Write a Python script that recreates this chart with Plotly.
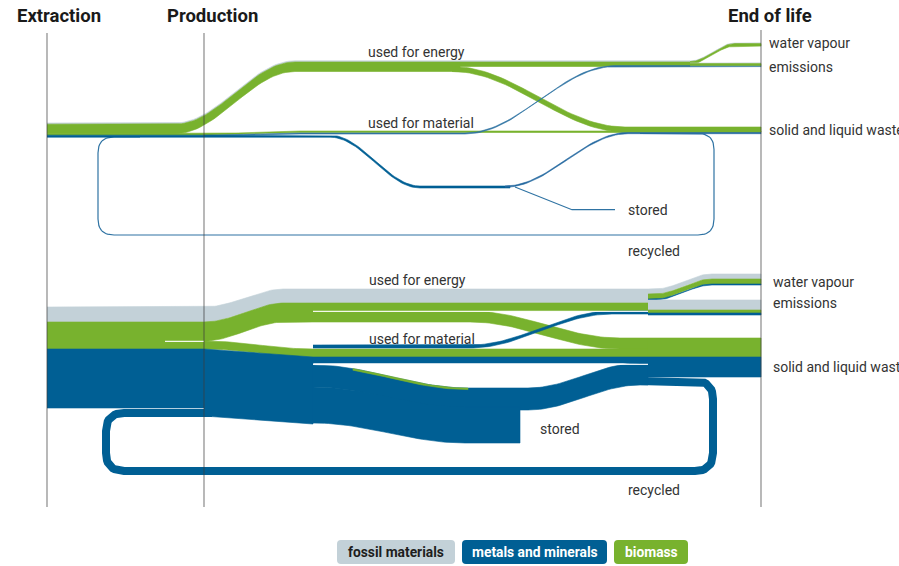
import numpy as np
import plotly.graph_objects as go

W, H = 899, 566
SCALE = 1.0  # px per flow unit

# ---------------- data ----------------
STAGES = ["Extraction", "Production", "End of life"]
MATERIALS = ["fossil materials", "metals and minerals", "biomass"]
USE_NODES = ["used for energy", "used for material", "stored", "recycled"]
EOL_NODES = ["water vapour", "emissions", "solid and liquid waste"]

# upper panel (band thickness units)
UP_FOSSIL = [0.6, 0.6]                      # -> water vapour, -> emissions
UP_BIOMASS = [2.5, 2.0, 5.0, 1.5]           # energy->vapour, energy->emissions, energy->waste, material->waste
UP_METALS = [2.0, 1.0, 1.0, 1.2, 1.0]       # extraction, recycled, ->emissions, ->waste, stored

# lower panel (band thickness units)
LO_FOSSIL = [5, 10]                         # -> water vapour, -> emissions
LO_BIOMASS = [5, 3, 11, 8]                  # energy->vapour, energy->emissions, energy->waste, material->waste
LO_METALS = [59, 8, 1, 2, 6, 14, 36]        # extraction, recycled, ->vapour, ->emissions, material->waste, via use->waste, stored

# ---------------- styles ----------------
C_FOS = "#c3d1d8"
C_MET = "#005f94"
C_BIO = "#78b22e"
C_SEP = "rgba(255,255,255,0.9)"
FONT = "Roboto"

fig = go.Figure()


def interp_path(pts, n=40, mode="smooth"):
    xs = [float(pts[0][0])]
    ys = [float(pts[0][1])]
    for (x0, y0), (x1, y1) in zip(pts[:-1], pts[1:]):
        if abs(y1 - y0) < 1e-9 or mode == "linear":
            xs.append(x1)
            ys.append(y1)
        else:
            t = np.linspace(0, 1, n)[1:]
            s = (1 - np.cos(np.pi * t)) / 2
            xs.extend(list(x0 + (x1 - x0) * t))
            ys.extend(list(y0 + (y1 - y0) * s))
    return np.array(xs), np.array(ys)


def band(pts, value, color, mode="smooth", xmin=None, xmax=None):
    w = value * SCALE
    xs, ys = interp_path(pts, mode=mode)
    if xmin is not None or xmax is not None:
        lo = xmin if xmin is not None else -1e9
        hi = xmax if xmax is not None else 1e9
        m = (xs >= lo) & (xs <= hi)
        xs, ys = xs[m], ys[m]
    px = np.concatenate([xs, xs[::-1]])
    py = np.concatenate([ys, (ys + w)[::-1]])
    fig.add_trace(go.Scatter(x=px, y=py, fill="toself", fillcolor=color,
                             line=dict(width=0.6, color=color), mode="lines",
                             hoverinfo="skip", showlegend=False))


def stack(top_pts, values, colors):
    """stack several bands that share the same top path"""
    off = 0.0
    for v, c in zip(values, colors):
        pts = [(x, y + off) for x, y in top_pts]
        band(pts, v, c)
        off += v * SCALE


def rounded(pts, r, n=14):
    out = [tuple(map(float, pts[0]))]
    for i in range(1, len(pts) - 1):
        p0 = np.array(pts[i - 1], float)
        p1 = np.array(pts[i], float)
        p2 = np.array(pts[i + 1], float)
        d0 = (p0 - p1) / np.linalg.norm(p0 - p1)
        d2 = (p2 - p1) / np.linalg.norm(p2 - p1)
        a = p1 + d0 * r
        b = p1 + d2 * r
        for tt in np.linspace(0, 1, n):
            q = (1 - tt) ** 2 * a + 2 * (1 - tt) * tt * p1 + tt ** 2 * b
            out.append(tuple(q))
    out.append(tuple(map(float, pts[-1])))
    xs, ys = zip(*out)
    return list(xs), list(ys)


def line(xs, ys, width, color):
    fig.add_trace(go.Scatter(x=xs, y=ys, mode="lines",
                             line=dict(width=width, color=color),
                             hoverinfo="skip", showlegend=False))


X_EX, X_PR, X_USE, X_END0, X_EOL = 47, 204, 313, 648, 761

# =============== upper panel ===============
u_fos = sum(UP_FOSSIL)
u_bio_en = sum(UP_BIOMASS[:3])
u_bio_mat = UP_BIOMASS[3]
u_met_ex, u_met_rec, u_met_em, u_met_waste, u_met_st = UP_METALS
uy0 = 123.0

# recycled loop (thin)
lx, ly = rounded([(640, 133.5), (714, 133.5), (714, 235), (98, 235), (98, 137), (140, 137)], 16)
line(lx, ly, u_met_rec * 1.2, "#2f73a3")

# fossil thin edge on energy flow
band([(X_EX, uy0), (175, uy0), (295, 60.8), (690, 60.8)], u_fos, C_FOS)
# biomass energy
band([(X_EX, uy0 + u_fos), (175, uy0 + u_fos), (295, 62), (460, 62)], u_bio_en, C_BIO)
band([(460, 62), (690, 62)], UP_BIOMASS[0] + UP_BIOMASS[1], C_BIO)
# biomass material
ym = uy0 + u_fos + u_bio_en
band([(X_EX, ym), (X_PR, ym), (300, 131), (X_EOL, 131)], u_bio_mat, C_BIO)
# energy -> waste
band([(452, 62 + UP_BIOMASS[0] + UP_BIOMASS[1]), (625, 127), (X_EOL, 127)], UP_BIOMASS[2], C_BIO)
# metals extraction
ymet = ym + u_bio_mat
band([(X_EX, ymet), (X_PR, ymet)], u_met_ex, C_MET)
# metals -> emissions (used for material)
band([(X_PR, ymet), (300, 133), (465, 133), (615, 65.6), (X_EOL, 65.6)], u_met_em, "#2f73a3")
# metals main path
band([(X_PR, ymet), (330, ymet), (420, 186), (510, 186)], u_met_ex, C_MET)
band([(505, 186), (628, 132.5), (X_EOL, 132.5)], u_met_waste, "#2468a0")
# stored (straight thin line)
line([515, 572, 615], [187, 209.7, 209.7], u_met_st * 1.2, "#2f73a3")
# water vapour group
stack([(690, 61), (735, 43), (X_EOL, 43)], [UP_FOSSIL[0], UP_BIOMASS[0]], [C_FOS, C_BIO])
# emissions group
stack([(690, 63), (X_EOL, 63)], [UP_FOSSIL[1], UP_BIOMASS[1]], [C_FOS, C_BIO])

# =============== lower panel ===============
l_fos = sum(LO_FOSSIL)
l_bio = sum(LO_BIOMASS)
l_e1 = LO_BIOMASS[0] + LO_BIOMASS[1]
l_e2 = LO_BIOMASS[2]
l_bmat = LO_BIOMASS[3]
m_ex, m_rec, m_vap, m_em, m_mat, m_via, m_st = LO_METALS
ly0 = 307.0

# recycled loop
rx, ry = rounded([(640, 381), (713, 381), (713, 471), (106, 471), (106, 413), (212, 413)], 18)
line(rx, ry, m_rec * SCALE, C_MET)

# fossil
band([(X_EX, ly0), (X_PR, ly0), (285, 289), (X_END0, 289)], l_fos, C_FOS)
# biomass extraction
band([(X_EX, ly0 + l_fos), (X_PR, ly0 + l_fos)], l_bio, C_BIO)
# biomass energy to use
band([(X_PR, ly0 + l_fos), (285, 303), (X_USE, 303)], l_e1 + l_e2, C_BIO)
band([(X_USE, 303), (X_END0, 303)], l_e1, C_BIO)
band([(X_USE, 303 + l_e1), (470, 303 + l_e1), (620, 338), (X_END0, 338)], l_e2, C_BIO)
# biomass material
yb = ly0 + l_fos + l_e1 + l_e2
band([(X_PR, yb), (X_USE, 349), (X_END0, 349)], l_bmat, C_BIO)
# metals
ymx = ly0 + l_fos + l_bio
band([(X_EX, ymx), (X_PR, ymx)], m_ex, C_MET)
band([(X_PR, ymx), (X_USE, 357)], m_ex + m_rec, C_MET, mode="linear")
band([(X_USE, 357), (X_END0, 357)], m_mat, C_MET)
big_pts = [(X_USE, 365), (468, 388), (528, 388), (640, 363), (X_END0, 363)]
band(big_pts, m_via + m_rec, C_MET)
band([(X_USE, 387), (465, 407), (520, 407)], m_st, C_MET)
band(big_pts, 1.6, C_BIO, xmin=352, xmax=478)
# metals -> emissions / vapour (used for material)
band([(X_USE, 345), (470, 345), (612, 311), (X_END0, 311)], m_vap + m_em, C_MET)
# end of life: waste
stack([(X_END0, 338), (X_EOL, 338)], [l_e2 + l_bmat, m_mat + m_via], [C_BIO, C_MET])
# water vapour
stack([(X_END0, 289), (655, 289), (712, 274), (X_EOL, 274)],
      [LO_FOSSIL[0], LO_BIOMASS[0], m_vap], [C_FOS, C_BIO, C_MET])
# emissions
stack([(X_END0, 300), (X_EOL, 300)],
      [LO_FOSSIL[1], LO_BIOMASS[1], m_em], [C_FOS, C_BIO, C_MET])

# ---------------- shapes ----------------
shapes = []
# separators
for (x0, x1, y) in [(165, X_PR, 341.3), (X_USE, X_END0, 311.3), (X_USE, X_END0, 364.3)]:
    shapes.append(dict(type="line", x0=x0, x1=x1, y0=y, y1=y, line=dict(color=C_SEP, width=1.3), layer="above"))
# stage lines
for x, y0 in [(X_EX, 33), (X_PR, 33), (X_EOL, 30)]:
    shapes.append(dict(type="line", x0=x, x1=x, y0=y0, y1=507,
                       line=dict(color="rgba(60,60,60,0.6)", width=1.2), layer="above"))


def rrect(x0, y0, x1, y1, r):
    return (f"M{x0+r},{y0} L{x1-r},{y0} Q{x1},{y0} {x1},{y0+r} L{x1},{y1-r} Q{x1},{y1} {x1-r},{y1} "
            f"L{x0+r},{y1} Q{x0},{y1} {x0},{y1-r} L{x0},{y0+r} Q{x0},{y0} {x0+r},{y0} Z")


legend_boxes = [(337, 455), (462, 607), (614, 688)]
legend_fill = [C_FOS, C_MET, C_BIO]
legend_text = ["#1e1e1e", "white", "white"]
annotations = []
for (x0, x1), name, fc, tc in zip(legend_boxes, MATERIALS, legend_fill, legend_text):
    shapes.append(dict(type="path", path=rrect(x0, 540, x1, 564, 4), fillcolor=fc, line=dict(width=0), layer="above"))
    annotations.append(dict(x=(x0 + x1) / 2, y=552, text=f"<b>{name}</b>",
                            showarrow=False, xanchor="center", yanchor="middle",
                            font=dict(family=FONT, size=13.8, color=tc)))

# headers
for txt, x in zip(STAGES, [15, 165, 726]):
    annotations.append(dict(x=x, y=16, text=f"<b>{txt}</b>", showarrow=False, xanchor="left", yanchor="middle",
                            font=dict(family=FONT, size=18.5, color="#1a1a1a")))

labels = [
    (USE_NODES[0], 366, 52), (USE_NODES[1], 366, 123), (USE_NODES[2], 626, 210), (USE_NODES[3], 626, 251),
    (EOL_NODES[0], 767, 43), (EOL_NODES[1], 767, 67), (EOL_NODES[2], 767, 130),
    (USE_NODES[0], 367, 280), (USE_NODES[1], 367, 339), (USE_NODES[2], 538, 429), (USE_NODES[3], 626, 490),
    (EOL_NODES[0], 771, 282), (EOL_NODES[1], 771, 303), (EOL_NODES[2], 771, 367),
]
for txt, x, y in labels:
    annotations.append(dict(x=x, y=y, text=txt, showarrow=False, xanchor="left", yanchor="middle",
                            font=dict(family=FONT, size=14, color="#333333")))

fig.update_layout(
    width=W, height=H, margin=dict(l=0, r=0, t=0, b=0),
    paper_bgcolor="white", plot_bgcolor="white",
    xaxis=dict(range=[0, W], visible=False, fixedrange=True),
    yaxis=dict(range=[H, 0], visible=False, fixedrange=True),
    shapes=shapes, annotations=annotations, showlegend=False,
)

fig.write_html("out.html", config={"displayModeBar": False},
               post_script="document.body.style.margin='0';document.body.style.overflow='hidden';")
